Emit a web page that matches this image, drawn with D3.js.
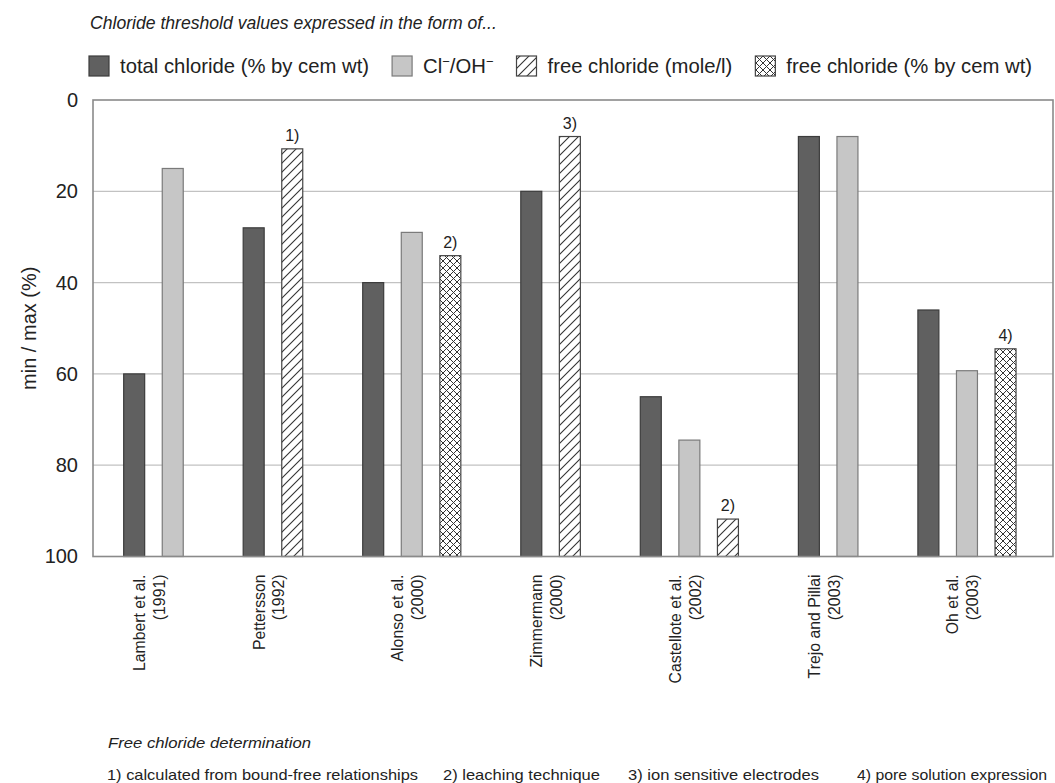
<!DOCTYPE html>
<html>
<head>
<meta charset="utf-8">
<script src="https://cdn.jsdelivr.net/npm/d3@7"></script>
<style>
  body { margin: 0; background: #fff; }
  svg { display: block; font-family: "Liberation Sans", Arial, sans-serif; }
</style>
</head>
<body>
<svg id="chart" width="1055" height="783"></svg>
<script>
// studies (two-line labels)
const authors = ["Lambert et al.", "Pettersson", "Alonso et al.", "Zimmermann", "Castellote et al.", "Trejo and Pillai", "Oh et al."]
const years = ["(1991)", "(1992)", "(2000)", "(2000)", "(2002)", "(2003)", "(2003)"]

// min / max (%) per study, null = not reported
const totalChloride = [60, 28, 40, 20, 65, 8, 46]
const clOhRatio = [15, null, 29, null, 74.5, 8, 59.3]
const freeMole = [null, 10.7, null, 8, 91.8, null, null]
const freeCem = [null, null, 34.1, null, null, null, 54.5]
const freeNotes = [null, "1)", "2)", "3)", "2)", null, "4)"]

const yTicks = [0, 20, 40, 60, 80, 100]

const seriesNames = ["total chloride (% by cem wt)", "Cl/OH", "free chloride (mole/l)", "free chloride (% by cem wt)"]
const footnotes = ["1) calculated from bound-free relationships", "2) leaching technique", "3) ion sensitive electrodes", "4) pore solution expression"]

const width = 1055
const margin = {top: 100, right: 2, bottom: 226.5, left: 93}
const plotW = width - margin.left - margin.right
const plotH = 783 - margin.top - margin.bottom

const svg = d3.select('#chart')

// patterns
const defs = svg.append('defs')
const hatch = defs.append('pattern')
    .attr('id', 'hatch')
    .attr('patternUnits', 'userSpaceOnUse')
    .attr('width', 9).attr('height', 9)
hatch.append('rect').attr('width', 9).attr('height', 9).attr('fill', '#fff')
hatch.append('path')
    .attr('d', 'M-1,1 L1,-1 M0,9 L9,0 M8,10 L10,8')
    .attr('stroke', '#333').attr('stroke-width', 1.1)

const cross = defs.append('pattern')
    .attr('id', 'cross')
    .attr('patternUnits', 'userSpaceOnUse')
    .attr('width', 7).attr('height', 7)
cross.append('rect').attr('width', 7).attr('height', 7).attr('fill', '#fff')
cross.append('path')
    .attr('d', 'M0,0 L7,7 M0,7 L7,0')
    .attr('stroke', '#333').attr('stroke-width', 1)

const styles = [
    {fill: '#606060', stroke: '#3c3c3c'},
    {fill: '#c6c6c6', stroke: '#7a7a7a'},
    {fill: 'url(#hatch)', stroke: '#444'},
    {fill: 'url(#cross)', stroke: '#444'}
]

// flatten bars, only the series that exist for each study
const seriesValues = [totalChloride, clOhRatio, freeMole, freeCem]
const barW = 21, innerGap = 17.6, groupGap = 60, padL = 30.7, padR = 37
let cursor = padL
const bars = []
const groups = []
authors.forEach((a, i) => {
    const start = cursor
    let n = 0
    seriesValues.forEach((vals, s) => {
        if (vals[i] == null) return
        if (n > 0) cursor += innerGap
        bars.push({study: i, series: s, value: vals[i], x0: cursor,
            note: s >= 2 ? freeNotes[i] : null})
        cursor += barW
        n++
    })
    groups.push({author: a, year: years[i], x0: start, x1: cursor})
    cursor += groupGap
})
const totalUnits = cursor - groupGap + padR

const x = d3.scaleLinear().domain([0, totalUnits]).range([0, plotW])
const y = d3.scaleLinear().domain([0, 100]).range([0, plotH])

const g = svg.append('g').attr('transform', `translate(${margin.left},${margin.top})`)

// grid
g.selectAll('.grid')
    .data(yTicks.slice(1, -1))
    .join('line')
    .attr('class', 'grid')
    .attr('x1', 0).attr('x2', plotW)
    .attr('y1', d => y(d)).attr('y2', d => y(d))
    .attr('stroke', '#c2c2c2').attr('stroke-width', 1.2)

// y axis
const yAxis = g.append('g').call(d3.axisLeft(y).tickValues(yTicks).tickSize(0).tickPadding(15))
yAxis.select('.domain').remove()
yAxis.selectAll('text')
    .attr('font-size', 20).attr('fill', '#222')
    .attr('font-family', '"Liberation Sans", Arial, sans-serif')

svg.append('text')
    .attr('transform', `translate(36,${margin.top + plotH / 2}) rotate(-90)`)
    .attr('text-anchor', 'middle')
    .attr('font-size', 20).attr('fill', '#222')
    .text('min / max (%)')

// bars
g.selectAll('.bar')
    .data(bars)
    .join('rect')
    .attr('class', 'bar')
    .attr('x', d => x(d.x0))
    .attr('width', x(barW) - x(0))
    .attr('y', d => y(d.value))
    .attr('height', d => y(100) - y(d.value))
    .attr('fill', d => styles[d.series].fill)
    .attr('stroke', d => styles[d.series].stroke)
    .attr('stroke-width', 1.2)

g.selectAll('.note')
    .data(bars.filter(d => d.note))
    .join('text')
    .attr('class', 'note')
    .attr('x', d => x(d.x0 + barW / 2))
    .attr('y', d => y(d.value) - 8)
    .attr('text-anchor', 'middle')
    .attr('font-size', 16).attr('fill', '#222')
    .text(d => d.note)

// frame
g.append('rect')
    .attr('width', plotW).attr('height', plotH)
    .attr('fill', 'none').attr('stroke', '#8a8a8a').attr('stroke-width', 1.6)

// category labels
const lab = g.selectAll('.cat')
    .data(groups)
    .join('g')
    .attr('class', 'cat')
    .attr('transform', d => `translate(${x((d.x0 + d.x1) / 2) - 4},${plotH + 18}) rotate(-90)`)
lab.append('text')
    .attr('y', -10).attr('dy', '0.35em')
    .attr('text-anchor', 'end')
    .attr('font-size', 15.8).attr('fill', '#222')
    .text(d => d.author)
lab.append('text')
    .attr('y', 10).attr('dy', '0.35em')
    .attr('text-anchor', 'end')
    .attr('font-size', 15.8).attr('fill', '#222')
    .text(d => d.year)

// title + legend
svg.append('text')
    .attr('x', 90).attr('y', 29)
    .attr('font-size', 17.6).attr('font-style', 'italic').attr('fill', '#222')
    .text('Chloride threshold values expressed in the form of...')

let lx = 89
const legendY = 66
seriesNames.forEach((name, i) => {
    svg.append('rect')
        .attr('x', lx).attr('y', legendY - 10)
        .attr('width', 20).attr('height', 20)
        .attr('fill', styles[i].fill).attr('stroke', styles[i].stroke).attr('stroke-width', 1.2)
    const t = svg.append('text')
        .attr('x', lx + 31).attr('y', legendY + 7)
        .attr('font-size', 20.3).attr('fill', '#222')
    if (i === 1) {
        t.append('tspan').text('Cl')
        t.append('tspan').attr('dy', -7).attr('font-size', 13).text('\u2212')
        t.append('tspan').attr('dy', 7).text('/OH')
        t.append('tspan').attr('dy', -7).attr('font-size', 13).text('\u2212')
    } else {
        t.text(name)
    }
    lx += 31 + t.node().getComputedTextLength() + 23
})

// footnotes
svg.append('text')
    .attr('x', 108).attr('y', 748)
    .attr('font-size', 14).attr('font-style', 'italic').attr('fill', '#222')
    .attr('textLength', 203).attr('lengthAdjust', 'spacingAndGlyphs')
    .text('Free chloride determination')

const footX = [107, 443, 628, 857]
const footW = [311, 157, 191, 190]
footnotes.forEach((f, i) => {
    svg.append('text')
        .attr('x', footX[i]).attr('y', 780)
        .attr('font-size', 15).attr('fill', '#222')
        .attr('textLength', footW[i]).attr('lengthAdjust', 'spacingAndGlyphs')
        .text(f)
})
</script>
</body>
</html>
